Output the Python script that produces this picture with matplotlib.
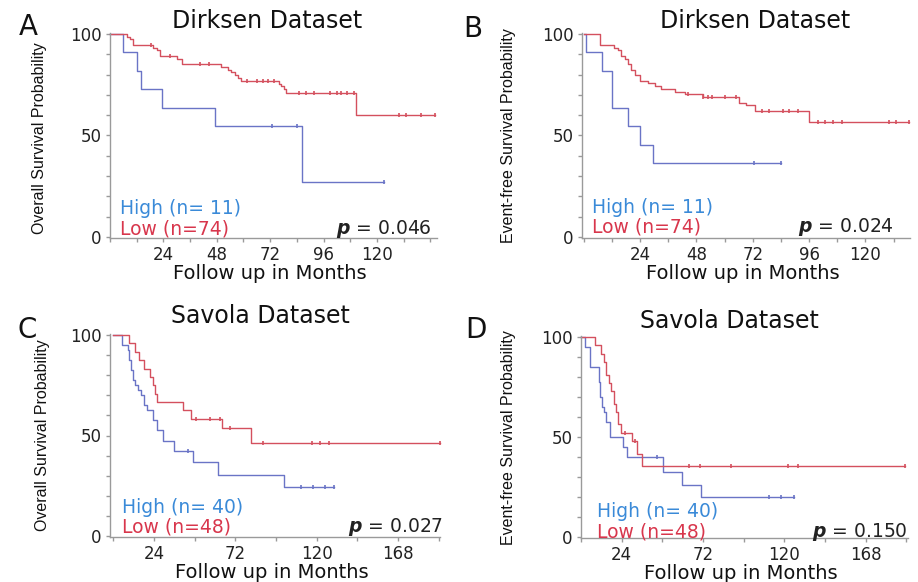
import numpy as np
import matplotlib
matplotlib.use("Agg")
from matplotlib import pyplot as plt
from matplotlib.ticker import MultipleLocator, FixedLocator

# Kaplan-Meier curves: drop times (months), survival (%) after
# each drop, and censor times
a_high_t = [6, 12, 14, 23.5, 47, 86.5]
a_high_s = [90.9, 81.8, 72.7, 63.6, 54.5, 27.3]
a_high_c = [73, 84, 123]
a_low_t = [7.5, 9, 10.5, 19.5, 21, 22.5, 30, 32.5, 50, 53, 54.5, 56, 57.5, 59, 76, 77, 78, 79, 110.5]
a_low_s = [98.6, 97.3, 94.6, 93.2, 91.9, 89.2, 87.8, 85.1, 83.8, 82.4, 81.1, 79.7, 78.4, 77.0,
           75.6, 74.3, 72.9, 70.9, 60.1]
a_low_c = [18.5, 27, 40.5, 44.5, 61.5, 66, 69, 71, 73.5, 85, 88, 91.5, 99, 102, 104, 106.5,
           109.5, 130, 133, 140, 146]

b_high_t = [1, 8, 12, 19, 24, 29.5]
b_high_s = [90.9, 81.8, 63.6, 54.5, 45.5, 36.4]
b_high_c = [72.5, 84]
b_low_t = [7, 13, 14.5, 16, 17.5, 19, 20, 22, 24, 27.5, 30.5, 33, 39, 43, 51, 66, 69, 73, 96]
b_low_s = [94.6, 93.2, 91.9, 89.2, 87.8, 85.1, 82.4, 79.7, 77.0, 75.7, 74.3, 73.0, 71.6, 70.3,
           68.9, 66.2, 64.9, 62.2, 56.8]
b_low_c = [44.5, 51, 53, 54.5, 60, 65, 76, 79, 85, 87.5, 91.5, 100, 103, 106, 110, 130, 133, 138.5]

c_high_t = [5, 8.5, 9.5, 10.5, 11.5, 13, 14.5, 16.5, 18, 20, 23.5, 26, 29.5, 35.5, 47, 62, 100.5]
c_high_s = [95, 92.5, 87.5, 82.5, 77.5, 75, 72.5, 70, 65, 62.5, 57.5, 52.5, 47.5, 42.5, 37,
            30.5, 24.4]
c_high_c = [44, 111, 118, 125, 130]
c_low_t = [9, 12.5, 15, 18, 21.5, 23.5, 24.5, 25.5, 41, 46, 64, 81.5]
c_low_s = [95.8, 91.7, 87.5, 83.3, 79.2, 75, 70.8, 66.7, 62.5, 58.3, 53.5, 46.3]
c_low_c = [49, 57, 63, 69, 88.5, 117, 122, 127, 193]

d_high_t = [2.5, 5.5, 10.5, 11.5, 12.5, 13.5, 15, 17, 25, 27, 48.5, 59.5, 71]
d_high_s = [95, 85, 77.5, 70, 65, 62.5, 57.5, 50, 45, 40, 32.5, 26, 20]
d_high_c = [45, 111, 118, 126]
d_low_t = [8.5, 12, 13.5, 15, 16.5, 18, 19.5, 20.5, 22, 23.5, 30, 33, 36]
d_low_s = [95.8, 91.7, 87.5, 81.2, 77.1, 72.9, 66.7, 62.5, 56.3, 52.1, 47.9, 41.7, 35.4]
d_low_c = [26, 32, 64, 70, 88.5, 122, 128, 191.5]

titles = ["Dirksen Dataset", "Dirksen Dataset", "Savola Dataset", "Savola Dataset"]
letters = ["A", "B", "C", "D"]
ylabels = ["Overall Survival Probability", "Event-free Survival Probability",
           "Overall Survival Probability", "Event-free Survival Probability"]
high_labels = ["High (n= 11)", "High (n= 11)", "High (n= 40)", "High (n= 40)"]
low_labels = ["Low (n=74)", "Low (n=74)", "Low (n=48)", "Low (n=48)"]
pvals = ["0.046", "0.024", "0.027", "0.150"]

RED = "#d4505e"
BLUE = "#6a74c6"
RED_TXT = "#d8364c"
BLUE_TXT = "#3a8ad8"
GRAY = "#9a9a9a"

W, H = 918, 582
fig = plt.figure(figsize=(W / 100, H / 100), dpi=100)


def px_axes(left, top, right, bottom):
    return fig.add_axes([left / W, 1 - bottom / H, (right - left) / W, (bottom - top) / H])


def km(ax, t, s, c, color):
    t = np.asarray(t, float)
    s = np.asarray(s, float)
    c = np.asarray(c, float)
    end = max(t[-1], c.max())
    xs = np.concatenate([[0], t, [end]])
    ys = np.concatenate([[100], s, [s[-1]]])
    ax.step(xs, ys, where="post", color=color, lw=1.0, clip_on=False)
    levels = np.concatenate([[100], s])
    cy = levels[np.searchsorted(t, c, side="right")]
    ax.plot(c, cy, ls="none", marker="|", ms=3, mew=1.2, color=color, clip_on=False)


panels = [
    dict(box=(110, 33, 437, 238), xlim=(0, 147), major=[24, 48, 72, 96, 120], step=12,
         high=(a_high_t, a_high_s, a_high_c), low=(a_low_t, a_low_s, a_low_c),
         title_x=0.48, title_y=1.06, leg=(0.03, 0.142, 0.044), p_x=0.985,
         letter=(28, 27), ylab=(40, 138), xlab_y=-0.125),
    dict(box=(582, 33, 910, 238), xlim=(-0.7, 139), major=[24, 48, 72, 96, 120], step=12,
         high=(b_high_t, b_high_s, b_high_c), low=(b_low_t, b_low_s, b_low_c),
         title_x=0.527, title_y=1.06, leg=(0.03, 0.147, 0.054), p_x=0.95,
         letter=(473, 29), ylab=(509, 136), xlab_y=-0.125),
    dict(box=(110, 334, 440, 537), xlim=(-2, 192.8), major=[24, 72, 120, 168], step=24,
         high=(c_high_t, c_high_s, c_high_c), low=(c_low_t, c_low_s, c_low_c),
         title_x=0.455, title_y=1.09, leg=(0.035, 0.144, 0.05), p_x=1.01,
         letter=(27, 330), ylab=(43, 435), xlab_y=-0.13),
    dict(box=(581, 336, 908, 538), xlim=(0, 193), major=[24, 72, 120, 168], step=24,
         high=(d_high_t, d_high_s, d_high_c), low=(d_low_t, d_low_s, d_low_c),
         title_x=0.455, title_y=1.075, leg=(0.048, 0.13, 0.03), p_x=1.0,
         letter=(476, 330), ylab=(508, 438), xlab_y=-0.13),
]

for i, p in enumerate(panels):
    ax = px_axes(*p["box"])
    km(ax, *p["high"], BLUE)
    km(ax, *p["low"], RED)
    ax.set_xlim(*p["xlim"])
    ax.set_ylim(-0.5, 100.5)

    for side in ("top", "right"):
        ax.spines[side].set_visible(False)
    for side in ("left", "bottom"):
        ax.spines[side].set_color(GRAY)
        ax.spines[side].set_linewidth(1.0)

    ax.xaxis.set_major_locator(FixedLocator(p["major"]))
    minors = [v for v in np.arange(0, p["xlim"][1] + 0.1, p["step"]) if v not in p["major"]]
    ax.xaxis.set_minor_locator(FixedLocator(minors))
    ax.yaxis.set_major_locator(FixedLocator([0, 50, 100]))
    ax.yaxis.set_minor_locator(MultipleLocator(10))
    ax.tick_params(which="both", color=GRAY, length=3, width=1)
    ax.tick_params(axis="both", labelsize=12, labelcolor="#222222")
    ax.tick_params(axis="x", pad=3)
    ax.tick_params(axis="y", pad=3)

    ax.set_xlabel("Follow up in Months", fontsize=14, color="#111111")
    ax.xaxis.set_label_coords(0.49, p["xlab_y"])
    ax.xaxis.label.set_va("top")

    ax.text(p["title_x"], p["title_y"], titles[i], transform=ax.transAxes,
            ha="center", va="center", fontsize=17, color="#111111")

    lx, hy, ly = p["leg"]
    ax.text(lx, hy, high_labels[i], transform=ax.transAxes, ha="left", va="center",
            fontsize=13.5, color=BLUE_TXT)
    ax.text(lx, ly, low_labels[i], transform=ax.transAxes, ha="left", va="center",
            fontsize=13.5, color=RED_TXT)
    ax.text(p["p_x"], ly, r"$\boldsymbol{p}$ = " + pvals[i], transform=ax.transAxes,
            ha="right", va="center", fontsize=13.5, color="#222222")

    fig.text(p["letter"][0] / W, 1 - p["letter"][1] / H, letters[i], ha="center",
             va="center", fontsize=20, color="#111111")
    fig.text(p["ylab"][0] / W, 1 - p["ylab"][1] / H, ylabels[i], rotation=90,
             ha="center", va="center", fontsize=11.5, color="#111111",
             family=["Liberation Sans", "DejaVu Sans"])

fig.savefig("out.png", dpi=100)
